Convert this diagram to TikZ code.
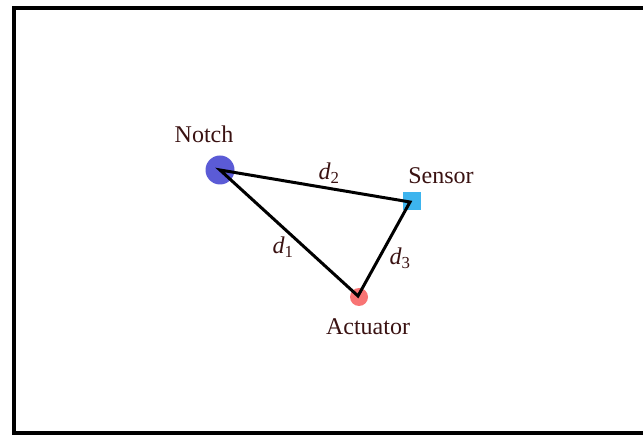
\documentclass[tikz,border=0pt]{standalone}
\usepackage{fontspec}
\setmainfont{Liberation Serif}
\definecolor{notchc}{HTML}{5B5BD6}
\definecolor{sensc}{HTML}{3DB4EE}
\definecolor{actc}{HTML}{F87474}
\definecolor{txtc}{HTML}{3A1212}
\begin{document}
\begin{tikzpicture}[x=1pt,y=-1pt,
  lbl/.style={text=txtc,font=\fontsize{24}{28}\selectfont,inner sep=0pt},
  dlbl/.style={text=txtc,font=\fontsize{24}{28}\selectfont,inner sep=0pt},
  edge/.style={draw=black,line width=3pt}]
\useasboundingbox (0,0) rectangle (643,435);
\clip (0,0) rectangle (643,435);
\draw[line width=4.5pt] (14,8) rectangle (670,433);
\node[circle,fill=notchc,minimum size=29pt,inner sep=0pt] (notch) at (220,170) {};
\node[rectangle,fill=sensc,minimum size=18pt,inner sep=0pt] (sensor) at (412,201) {};
\node[circle,fill=actc,minimum size=18pt,inner sep=0pt] (act) at (359,297) {};
\coordinate (n) at (220,170);
\coordinate (s) at (410,202);
\coordinate (a) at (358,296);
\draw[edge,line join=miter] (n) -- (s) -- (a) -- cycle;
\node[lbl] (tn) at (204,134) {Notch};
\node[lbl] (ts) at (441,176) {Sensor};
\node[lbl] (ta) at (368,327) {Actuator};
\node[dlbl] (d2) at (329,173) {\textit{d}\textsubscript{2}};
\node[dlbl] (d1) at (283,247) {\textit{d}\textsubscript{1}};
\node[dlbl] (d3) at (400,258) {\textit{d}\textsubscript{3}};
\end{tikzpicture}
\end{document}
